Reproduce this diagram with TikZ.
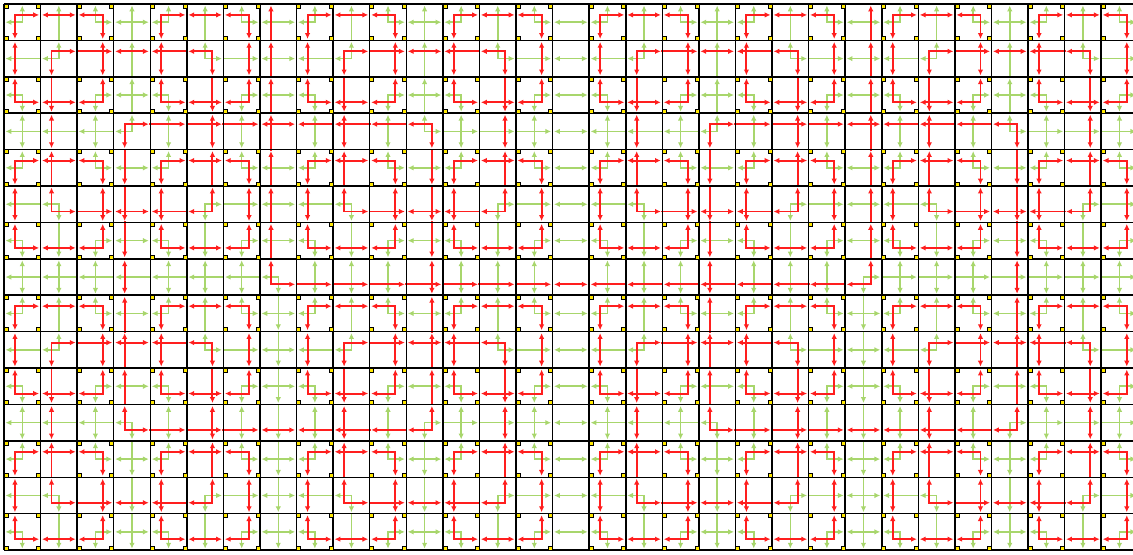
\documentclass[tikz,border=0pt]{standalone}
\usetikzlibrary{arrows.meta}
\definecolor{cred}{HTML}{FF1E1E}
\definecolor{cgreen}{HTML}{A8D66C}
\definecolor{cyell}{HTML}{FFE800}
\tikzset{
  every picture/.style={line width=1pt},
  redline/.style={draw=cred, line width=1.5pt, line cap=rect},
  greenline/.style={draw=cgreen, line width=1.2pt, line cap=rect},
  onetip/.style={-{Latex[length=1.6mm, width=1.5mm]}, shorten >=0.4mm},
  twotip/.style={{Latex[length=1.6mm, width=1.5mm]}-{Latex[length=1.6mm, width=1.5mm]}, shorten >=0.4mm, shorten <=0.4mm},
  cellline/.style={draw=black, line width=1.2pt},
  corner/.style={fill=cyell, draw=black, line width=0.45pt},
}
% one square ring round cell (#1,#2), #3 cells out, pushed #4 further
\newcommand{\ring}[5]{%
  \pgfmathsetmacro{\lx}{#1+0.5-#3-#4}\pgfmathsetmacro{\rx}{#1+0.5+#3+#4}%
  \pgfmathsetmacro{\ty}{#2+0.5-#3-#4}\pgfmathsetmacro{\by}{#2+0.5+#3+#4}%
  \foreach \i in {-#3,...,#3} {
    \pgfmathsetmacro{\ha}{\i==-#3 ? \lx : #1+(\i)}
    \pgfmathsetmacro{\hb}{\i==#3 ? \rx : #1+(\i)+1}
    \pgfmathsetmacro{\va}{\i==-#3 ? \ty : #2+(\i)}
    \pgfmathsetmacro{\vb}{\i==#3 ? \by : #2+(\i)+1}
    \ifnum\i<0
      \draw[#5, onetip] (\ha,\ty) -- (\hb,\ty); \draw[#5, onetip] (\ha,\by) -- (\hb,\by);
      \draw[#5, onetip] (\lx,\va) -- (\lx,\vb); \draw[#5, onetip] (\rx,\va) -- (\rx,\vb);
    \else\ifnum\i>0
      \draw[#5, onetip] (\hb,\ty) -- (\ha,\ty); \draw[#5, onetip] (\hb,\by) -- (\ha,\by);
      \draw[#5, onetip] (\lx,\vb) -- (\lx,\va); \draw[#5, onetip] (\rx,\vb) -- (\rx,\va);
    \else
      \draw[#5, twotip] (\ha,\ty) -- (\hb,\ty); \draw[#5, twotip] (\ha,\by) -- (\hb,\by);
      \draw[#5, twotip] (\lx,\va) -- (\lx,\vb); \draw[#5, twotip] (\rx,\va) -- (\rx,\vb);
    \fi\fi
  }%
}

\begin{document}
\begin{tikzpicture}[x=1cm, y=-0.9954cm]
  \useasboundingbox (-0.109,-0.11) rectangle (30.87,15.11);
  \begin{scope}
    \clip (0,0) rectangle (31,15);
    % green rings
    \foreach \cx in {-1,3,...,31} \foreach \cy in {-1,3,7,11,15} {\ring{\cx}{\cy}{1}{0}{greenline}}
    \foreach \cx in {-1,7,...,31} \foreach \cy in {-1,7,15} {\ring{\cx}{\cy}{2}{0}{greenline}}
    \foreach \cx in {-1,15,31} \foreach \cy in {-1,15} {\ring{\cx}{\cy}{4}{0}{greenline}}
    \foreach \cx in {-1,31} {\ring{\cx}{15}{8}{0}{greenline}}
    % red rings
    \foreach \cx in {1,5,...,29} \foreach \cy in {1,5,9,13} {\ring{\cx}{\cy}{1}{0.2}{redline}}
    \foreach \cx in {3,11,19,27} \foreach \cy in {3,11} {\ring{\cx}{\cy}{2}{0.2}{redline}}
    \foreach \cx in {7,23} {\ring{\cx}{7}{4}{0.2}{redline}}
    \ring{15}{-1}{8}{0.2}{redline}
  \end{scope}
  % cells
  \foreach \x in {0,...,31} \draw[cellline] (\x,0) -- (\x,15);
  \foreach \y in {0,...,15} \draw[cellline] (0,\y) -- (31,\y);
  % coarse cells
  \foreach \x in {0,2,...,30} \foreach \y in {0,2,...,14} {
    \draw[corner] (\x,\y) rectangle ++(0.11,0.11);
    \draw[corner] (\x+1,\y) rectangle ++(-0.11,0.11);
    \draw[corner] (\x,\y+1) rectangle ++(0.11,-0.11);
    \draw[corner] (\x+1,\y+1) rectangle ++(-0.11,-0.11);
  }
\end{tikzpicture}
\end{document}
